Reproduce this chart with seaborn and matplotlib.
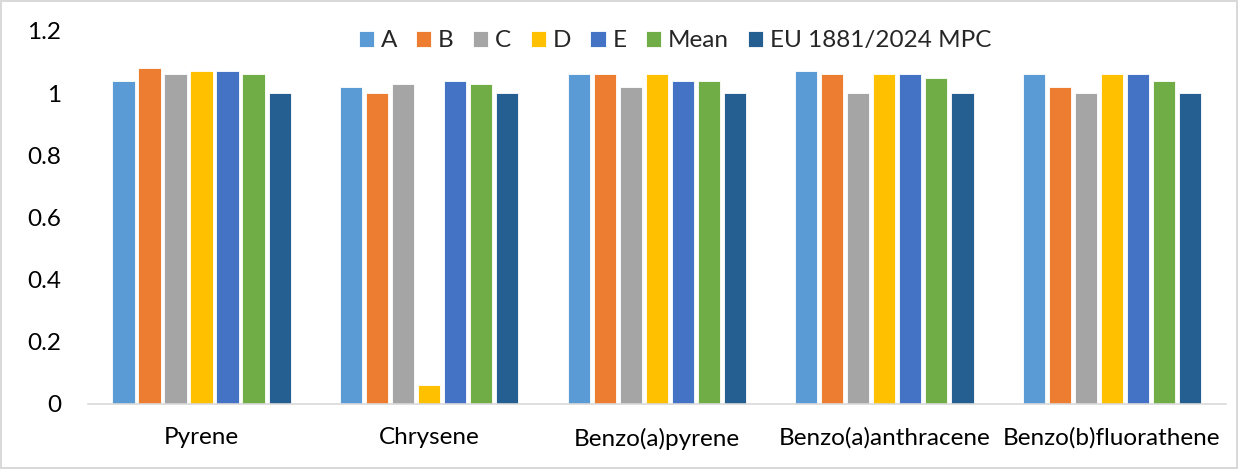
import matplotlib
matplotlib.use("Agg")
import matplotlib.pyplot as plt
from matplotlib.ticker import FuncFormatter, MultipleLocator
import seaborn as sns
import pandas as pd

categories = ["Pyrene", "Chrysene", "Benzo(a)pyrene", "Benzo(a)anthracene", "Benzo(b)fluorathene"]
series_names = ["A", "B", "C", "D", "E", "Mean", "EU 1881/2024 MPC"]
values_a = [1.04, 1.02, 1.06, 1.07, 1.06]
values_b = [1.08, 1.00, 1.06, 1.06, 1.02]
values_c = [1.06, 1.03, 1.02, 1.00, 1.00]
values_d = [1.07, 0.06, 1.06, 1.06, 1.06]
values_e = [1.07, 1.04, 1.04, 1.06, 1.06]
values_mean = [1.06, 1.03, 1.04, 1.05, 1.04]
values_mpc = [1.00, 1.00, 1.00, 1.00, 1.00]

colors = ["#5B9BD5", "#ED7D31", "#A5A5A5", "#FFC000", "#4472C4", "#70AD47", "#255E91"]

all_series = [values_a, values_b, values_c, values_d, values_e, values_mean, values_mpc]
rows = []
for name, vals in zip(series_names, all_series):
    for cat, v in zip(categories, vals):
        rows.append({"compound": cat, "series": name, "value": v})
df = pd.DataFrame(rows)

sns.set_style("white")
plt.rcParams["font.family"] = ["Lato", "DejaVu Sans"]

fig = plt.figure(figsize=(12.38, 4.69), dpi=100)
fig.patch.set_edgecolor("#d9d9d9")
fig.patch.set_linewidth(1.5)
ax = fig.add_axes([0.071, 0.139, 0.919, 0.795])

sns.barplot(data=df, x="compound", y="value", hue="series",
            order=categories, hue_order=series_names, palette=colors,
            saturation=1, width=0.8, gap=0.14, edgecolor="white", linewidth=0.6,
            errorbar=None, ax=ax)

ax.set_ylim(0, 1.2)
ax.yaxis.set_major_locator(MultipleLocator(0.2))
ax.yaxis.set_major_formatter(FuncFormatter(lambda v, p: f"{v:g}"))
ax.set_xlim(-0.5, len(categories) - 0.5)
ax.set_xlabel("")
ax.set_ylabel("")
for side in ["top", "right", "left"]:
    ax.spines[side].set_visible(False)
ax.spines["bottom"].set_color("#d9d9d9")
ax.spines["bottom"].set_linewidth(1.2)
ax.tick_params(axis="both", length=0, labelsize=17.5, colors="black")
ax.tick_params(axis="y", pad=19)
ax.tick_params(axis="x", pad=17)

handles, labels = ax.get_legend_handles_labels()
ax.legend(handles, labels, ncol=7, loc="upper center", bbox_to_anchor=(0.516, 1.06),
          frameon=False, fontsize=17.5, handlelength=0.62, handleheight=0.62,
          handletextpad=0.28, columnspacing=0.8)

fig.savefig("out.png", dpi=100)
